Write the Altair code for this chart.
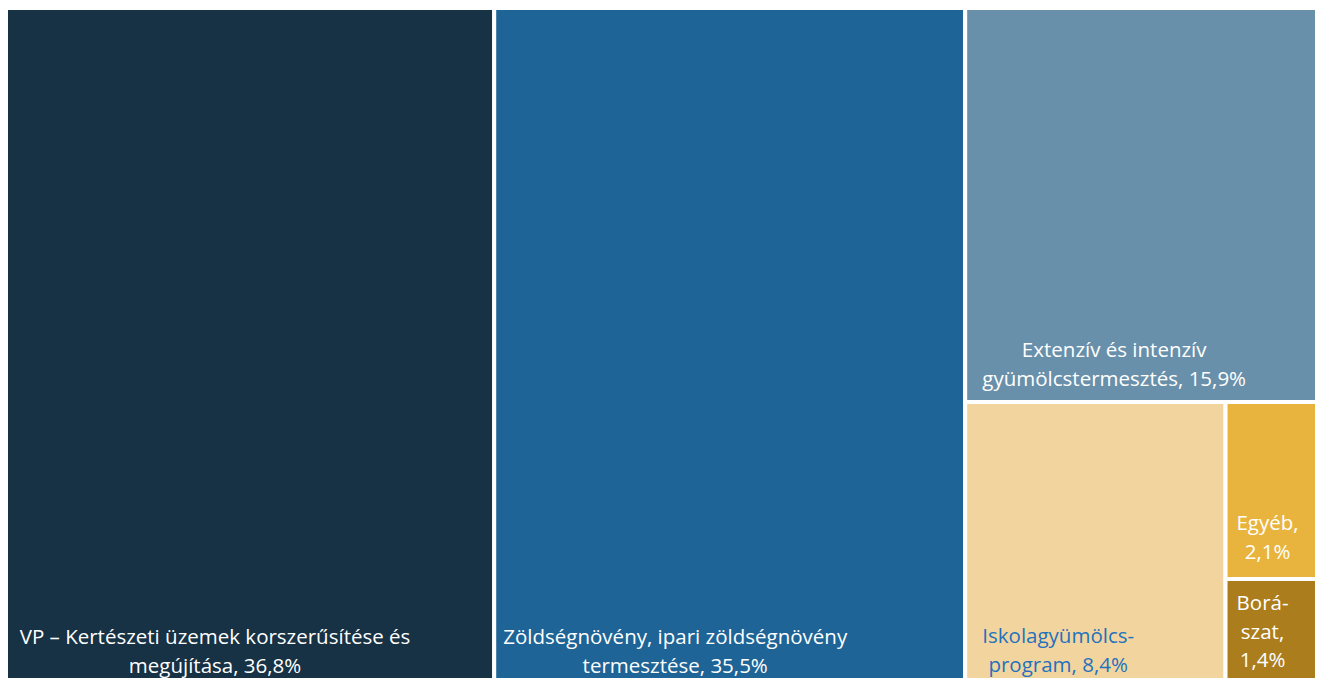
import altair as alt
import pandas as pd

# ---- data ----
names = [
    "VP – Kertészeti üzemek korszerűsítése és megújítása",
    "Zöldségnövény, ipari zöldségnövény termesztése",
    "Extenzív és intenzív gyümölcstermesztés",
    "Iskolagyümölcs-program",
    "Egyéb",
    "Borászat",
]
values = [36.8, 35.5, 15.9, 8.4, 2.1, 1.4]
labels = [
    "VP – Kertészeti üzemek korszerűsítése és\nmegújítása, 36,8%",
    "Zöldségnövény, ipari zöldségnövény\ntermesztése, 35,5%",
    "Extenzív és intenzív\ngyümölcstermesztés, 15,9%",
    "Iskolagyümölcs-\nprogram, 8,4%",
    "Egyéb,\n2,1%",
    "Borá-\nszat,\n1,4%",
]
colors = ["#173145", "#1e6496", "#6990aa", "#f2d59e", "#e9b43e", "#ac7d1d"]
text_colors = ["#ffffff", "#ffffff", "#ffffff", "#1f72be", "#ffffff", "#ffffff"]

# ---- squarified treemap layout (layout units = pixels) ----
LW, LH = 1328.0, 689.0


def worst(row, w):
    s = sum(row)
    mx, mn = max(row), min(row)
    return max(w * w * mx / (s * s), (s * s) / (w * w * mn))


def squarify(vals, x, y, w, h, out):
    total = sum(vals)
    scale = w * h / total
    areas = [v * scale for v in vals]
    i = 0
    while i < len(areas):
        side = min(w, h)
        row = [areas[i]]
        j = i + 1
        while j < len(areas) and worst(row + [areas[j]], side) <= worst(row, side):
            row.append(areas[j])
            j += 1
        s = sum(row)
        if w >= h:
            cw = s / h
            cy = y
            for a in row:
                rh = a / cw
                out.append((x, x + cw, cy, cy + rh))
                cy += rh
            x += cw
            w -= cw
        else:
            rh = s / w
            cx = x
            for a in row:
                rw = a / rh
                out.append((cx, cx + rw, y, y + rh))
                cx += rw
            y += rh
            h -= rh
        i = j


rects = []
squarify(values, 0.0, 0.0, LW, LH, rects)

df = pd.DataFrame({
    "name": names,
    "value": values,
    "label": labels,
    "x0": [r[0] for r in rects],
    "x1": [r[1] for r in rects],
    "y0": [r[2] for r in rects],
    "y1": [r[3] for r in rects],
})

W, H = 1307, 670
xs = alt.Scale(domain=[2, 2 + W], nice=False, zero=False)
ys = alt.Scale(domain=[0, H], nice=False, zero=False, reverse=True)

rect_layer = alt.Chart(df).mark_rect(stroke="white", strokeWidth=4).encode(
    x=alt.X("x0:Q", scale=xs, axis=None),
    x2="x1:Q",
    y=alt.Y("y0:Q", scale=ys, axis=None),
    y2="y1:Q",
    color=alt.Color("name:N", scale=alt.Scale(domain=names, range=colors), legend=None),
    tooltip=["name:N", "value:Q"],
)

# per-label text offsets (pixels) from each rectangle's bottom-left corner (first line)
offsets = [(209, -59), (181, -59), (149, -51), (93, -60), (42, -55), (37, -93)]

layers = [rect_layer]
for i, nm in enumerate(names):
    dx, dy = offsets[i]
    layers.append(
        alt.Chart(df[df["name"] == nm]).mark_text(
            align="center", baseline="middle", lineBreak="\n", lineHeight=28.5,
            font="Open Sans", fontSize=20.5, color=text_colors[i], dx=dx, dy=dy,
        ).encode(
            x=alt.X("x0:Q", scale=xs, axis=None),
            y=alt.Y("y1:Q", scale=ys, axis=None),
            text="label:N",
        )
    )

chart = alt.layer(*layers).properties(
    width=W, height=H,
    autosize=alt.AutoSizeParams(type="none"),
    padding=0,
).configure_view(stroke=None)

chart.save("out.html", embed_options={"renderer": "svg", "actions": False})
